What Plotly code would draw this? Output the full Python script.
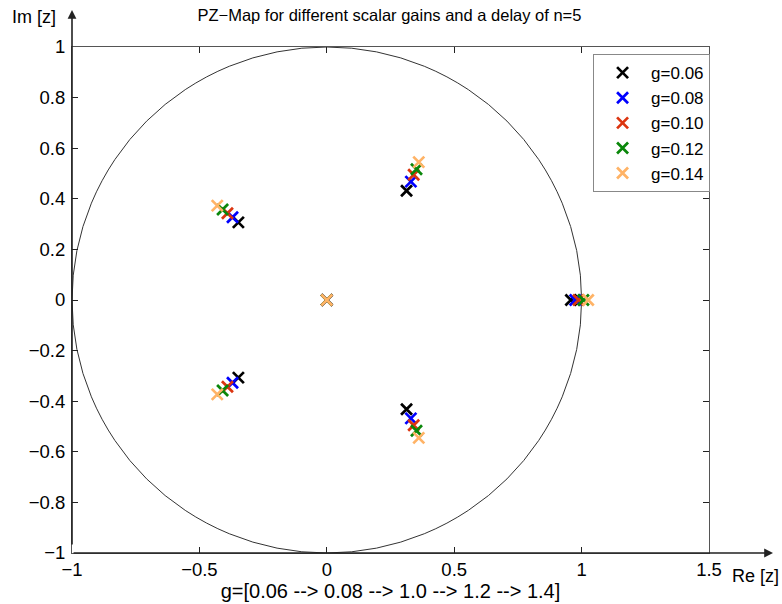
import plotly.graph_objects as go

# Scalar gains and the resulting closed-loop pole locations (z-plane)
gains = [0.06, 0.08, 0.10, 0.12, 0.14]
labels = ["g=0.06", "g=0.08", "g=0.10", "g=0.12", "g=0.14"]
colors = ["#000000", "#0000ff", "#dc3510", "#0a870a", "#ffb366"]

real_pole = [0.958, 0.975, 0.988, 1.007, 1.026]
pair_a_re = [0.313, 0.330, 0.341, 0.352, 0.361]
pair_a_im = [0.432, 0.468, 0.495, 0.517, 0.545]
pair_b_re = [-0.347, -0.370, -0.390, -0.409, -0.430]
pair_b_im = [0.307, 0.327, 0.343, 0.358, 0.373]
origin_pole = [0.0, 0.0, 0.0, 0.0, 0.0]

FONT = "Liberation Sans, Arial, sans-serif"

fig = go.Figure()

for i, g in enumerate(gains):
    xs = [real_pole[i], pair_a_re[i], pair_a_re[i], pair_b_re[i], pair_b_re[i], origin_pole[i]]
    ys = [0.0, pair_a_im[i], -pair_a_im[i], pair_b_im[i], -pair_b_im[i], 0.0]
    fig.add_trace(go.Scatter(
        x=xs, y=ys, mode="markers", name=labels[i],
        marker=dict(symbol="x-thin", size=11, color=colors[i],
                    line=dict(color=colors[i], width=2.7)),
    ))

# unit circle
fig.add_shape(type="circle", xref="x", yref="y", x0=-1, y0=-1, x1=1, y1=1,
              line=dict(color="#333333", width=1), layer="below")

# axis arrows (left and bottom spines extended with arrowheads)
fig.add_annotation(xref="paper", yref="paper", x=0, y=1.073, ax=0, ay=536,
                   text="", showarrow=True, arrowhead=2, arrowsize=1.1,
                   arrowwidth=1.6, arrowcolor="#222222")
fig.add_annotation(xref="paper", yref="paper", x=1.1005, y=0, ax=-701, ay=0,
                   text="", showarrow=True, arrowhead=2, arrowsize=1.1,
                   arrowwidth=1.6, arrowcolor="#222222")

fig.add_annotation(xref="paper", yref="paper", x=-0.022, y=1.059,
                   xanchor="right", yanchor="middle", showarrow=False,
                   text="Im [z]", font=dict(family=FONT, size=18, color="#000"))
fig.add_annotation(xref="paper", yref="paper", x=1.033, y=-0.045,
                   xanchor="left", yanchor="middle", showarrow=False,
                   text="Re [z]", font=dict(family=FONT, size=18, color="#000"))

axis_common = dict(
    showgrid=False, zeroline=False, showline=True, linewidth=1,
    linecolor="#555555", mirror="ticks", ticks="inside", ticklen=6,
    tickcolor="#222222", tickwidth=1, automargin=False,
    tickfont=dict(family=FONT, size=18.5, color="#000"),
)

fig.update_layout(
    width=782, height=604, autosize=False,
    margin=dict(l=72, r=73, t=47, b=51),
    paper_bgcolor="white", plot_bgcolor="white",
    title=dict(text="PZ\u2212Map for different scalar gains and a delay of n=5",
               x=0.498, xanchor="center", y=0.975, yref="container",
               yanchor="middle", font=dict(family=FONT, size=16.5, color="#000")),
    xaxis=dict(range=[-1, 1.5], tickvals=[-1, -0.5, 0, 0.5, 1, 1.5],
               ticklabelstandoff=0,
               title=dict(text="g=[0.06 --> 0.08 --> 1.0 --> 1.2 --> 1.4]",
                          font=dict(family=FONT, size=20, color="#000"),
                          standoff=1),
               **axis_common),
    yaxis=dict(range=[-1, 1], dtick=0.2, tick0=0, ticklabelstandoff=2,
               **axis_common),
    legend=dict(x=0.818, y=0.986, xanchor="left", yanchor="top",
                bordercolor="#888888", borderwidth=1, bgcolor="white",
                font=dict(family=FONT, size=17, color="#000"),
                itemwidth=47),
    showlegend=True,
)

fig.write_html("out.html")
